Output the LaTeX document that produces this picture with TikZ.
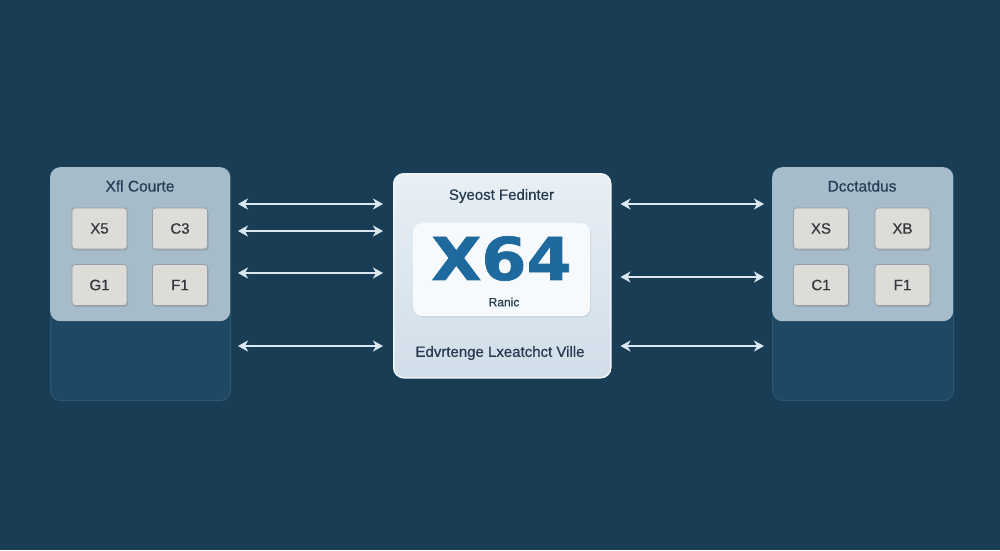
\documentclass[tikz,border=0pt]{standalone}
\usepackage{fontspec}
\setmainfont{Liberation Sans}
\newfontfamily\bigfont[FakeBold=1.2]{DejaVu Sans Bold}
\newfontfamily\medfont[FakeBold=0.6]{Liberation Sans}
\usetikzlibrary{arrows.meta,shadows}
\definecolor{bg}{RGB}{25,61,84}
\definecolor{lowerc}{RGB}{30,72,100}
\definecolor{lowerb}{RGB}{42,86,114}
\definecolor{upperc}{RGB}{166,188,203}
\definecolor{boxc}{RGB}{222,220,216}
\definecolor{boxb}{RGB}{150,158,166}
\definecolor{boxt}{RGB}{52,56,62}
\definecolor{titlec}{RGB}{36,62,86}
\definecolor{ctop}{RGB}{232,239,245}
\definecolor{cbot}{RGB}{208,222,233}
\definecolor{cborder}{RGB}{240,245,249}
\definecolor{innerc}{RGB}{247,250,252}
\definecolor{bigblue}{RGB}{30,106,158}
\definecolor{arrc}{RGB}{218,232,242}
\definecolor{ctext}{RGB}{38,58,80}
\tikzset{
  lowerpanel/.style={draw=lowerb, line width=1pt, fill=lowerc, rounded corners=10pt, anchor=north west, inner sep=0pt},
  upperpanel/.style={fill=upperc, rounded corners=10pt, anchor=north west, inner sep=0pt},
  keybox/.style={draw=boxb, line width=0.8pt, fill=boxc, rounded corners=3pt, minimum width=55pt, minimum height=41pt, inner sep=0pt, font=\medfont\fontsize{15}{15}\selectfont, text=boxt, drop shadow={opacity=0.35, shadow xshift=1pt, shadow yshift=-1.5pt}},
  ptitle/.style={font=\medfont\fontsize{15.5}{16}\selectfont, text=titlec},
  centerbox/.style={draw=cborder, line width=1.5pt, top color=ctop, bottom color=cbot, rounded corners=10pt, anchor=north west, inner sep=0pt, minimum width=217pt, minimum height=204pt},
  innerbox/.style={fill=innerc, rounded corners=9pt, anchor=north west, inner sep=0pt, minimum width=177pt, minimum height=93pt, drop shadow={opacity=0.15, shadow xshift=1pt, shadow yshift=-1.5pt}},
  ctxt/.style={font=\medfont\fontsize{15}{16}\selectfont, text=ctext},
  arr/.style={draw=arrc, line width=2.4pt, {Stealth[length=10pt,width=11pt,inset=3pt]}-{Stealth[length=10pt,width=11pt,inset=3pt]}},
}
\begin{document}
\begin{tikzpicture}[x=1pt,y=-1pt]
\fill[bg] (0,0) rectangle (1000,550);
\useasboundingbox (0,0) rectangle (1000,550);

% left panel
\node[lowerpanel, minimum width=180pt, minimum height=233pt] (lp) at (50,167) {};
\node[upperpanel, minimum width=180pt, minimum height=154pt] (lpu) at (50,167) {};
\node[ptitle] (lt) at (140,186) {Xfl Courte};
\node[keybox] (lx5) at (99.5,228.5) {X5};
\node[keybox] (lc3) at (180,228.5) {C3};
\node[keybox] (lg1) at (99.5,285) {G1};
\node[keybox] (lf1) at (180,285) {F1};

% right panel
\node[lowerpanel, minimum width=181pt, minimum height=233pt] (rp) at (772,167) {};
\node[upperpanel, minimum width=181pt, minimum height=154pt] (rpu) at (772,167) {};
\node[ptitle] (rt) at (862,186) {Dcctatdus};
\node[keybox] (rxs) at (821,228.5) {XS};
\node[keybox] (rxb) at (902.5,228.5) {XB};
\node[keybox] (rc1) at (821,285) {C1};
\node[keybox] (rf1) at (902.5,285) {F1};

% center box
\node[centerbox] (cb) at (393,173) {};
\node[innerbox] (ib) at (413,223) {};
\node[ctxt] (ct) at (501.5,196) {Syeost Fedinter};
\node[text=bigblue, inner sep=0pt] (x64) at (501.5,258.5) {\scalebox{1.1}[1]{\fontsize{59}{59}\selectfont\bigfont X64}};
\node[ctxt, font=\medfont\fontsize{12}{12}\selectfont] (rn) at (504,302) {Ranic};
\node[ctxt] (cbt) at (500,353) {Edvrtenge Lxeatchct Ville};

% arrows left
\foreach \yy in {204,231,273,346}{
  \draw[arr, shorten <=7pt, shorten >=10pt] (lp.east |- 0,\yy) -- (cb.west |- 0,\yy);
}
% arrows right
\foreach \yy in {204,277,346}{
  \draw[arr, shorten <=9pt, shorten >=8pt] (cb.east |- 0,\yy) -- (rp.west |- 0,\yy);
}
\end{tikzpicture}
\end{document}
